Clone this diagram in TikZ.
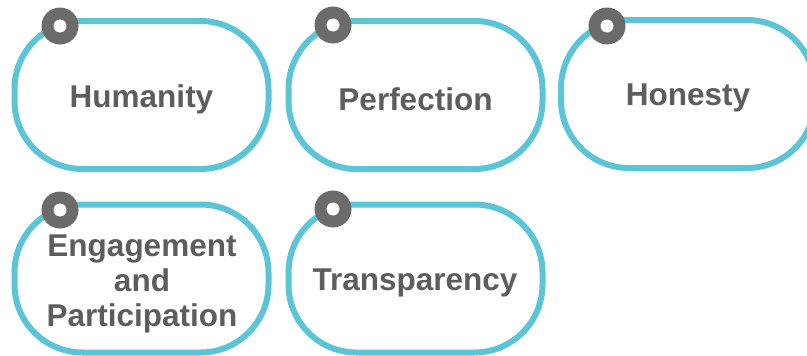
\documentclass[tikz,border=0pt]{standalone}
\usepackage{fontspec}
\setmainfont{Liberation Sans}
\definecolor{ringblue}{HTML}{5BC5D7}
\definecolor{dotgray}{HTML}{6C6B6A}
\definecolor{txtgray}{HTML}{5D5D5F}
\begin{document}
\begin{tikzpicture}[x=1pt,y=-1pt,
  valuebox/.style={draw=ringblue, line width=6pt, rounded corners=68pt,
    minimum width=254pt, minimum height=148pt, inner sep=0pt},
  valuetext/.style={font=\fontsize{31.5}{35}\selectfont\bfseries, text=txtgray, align=center},
  pin/.style={circle, fill=dotgray, minimum size=37pt, inner sep=0pt},
  pinhole/.style={circle, fill=white, minimum size=13pt, inner sep=0pt}]
\useasboundingbox (0,0) rectangle (807,356);
\node[valuebox] (b1) at (141.5,95) {};
\node[valuebox] (b2) at (415.5,95) {};
\node[valuebox] (b3) at (688,94) {};
\node[valuebox] (b4) at (141.5,278.5) {};
\node[valuebox] (b5) at (415.5,278.5) {};
\node[valuetext] (t1) at (141.5,99.5) {Humanity};
\node[valuetext] (t2) at (415.5,99.5) {Perfection};
\node[valuetext] (t3) at (688,97.5) {Honesty};
\node[valuetext] (t4) at (142,284) {Engagement\\and\\Participation};
\node[valuetext] (t5) at (415,282.5) {Transparency};
\foreach \n/\x/\y in {1/60/26, 2/333/25, 3/607/26, 4/60/210, 5/333/209}{
  \node[pin] (p\n) at (\x,\y) {};
  \node[pinhole] (h\n) at (p\n) {};
}
\end{tikzpicture}
\end{document}
